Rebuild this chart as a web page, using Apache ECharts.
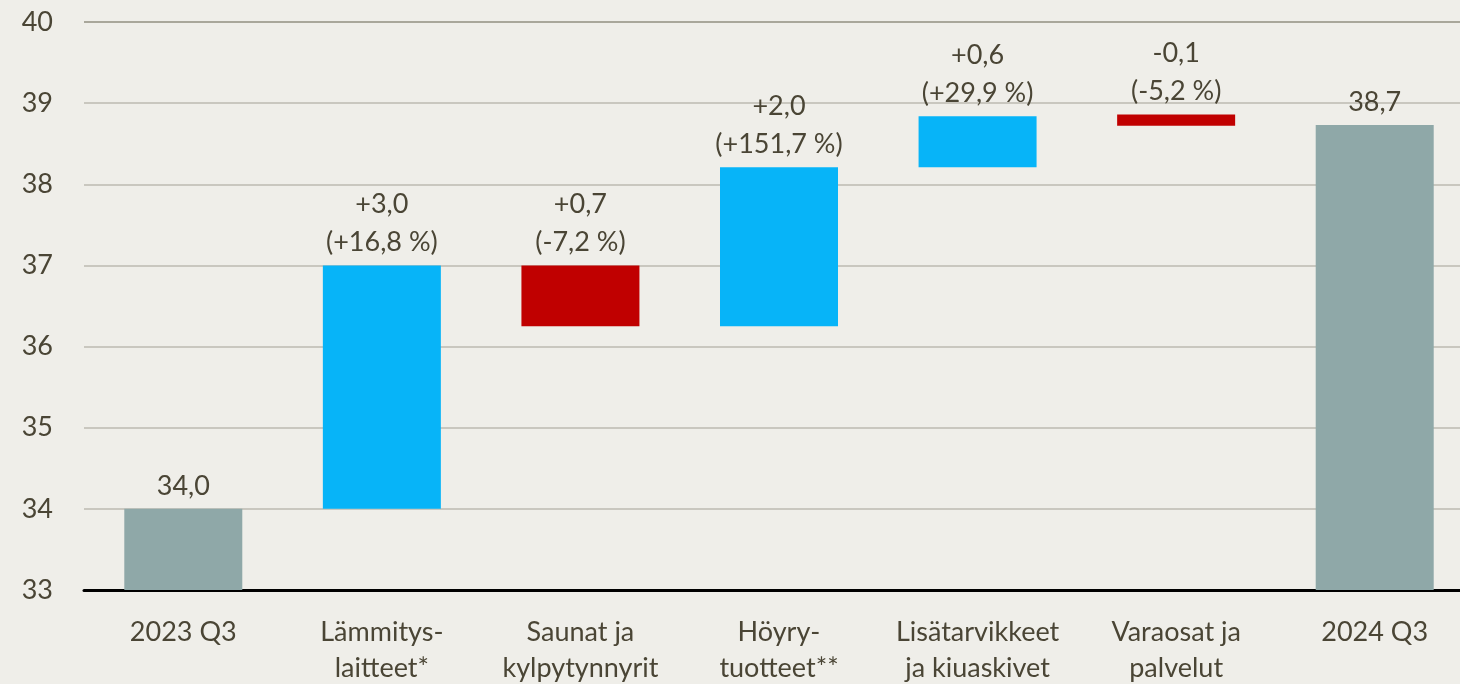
<!DOCTYPE html>
<html>
<head>
<meta charset="utf-8">
<script src="https://cdn.jsdelivr.net/npm/echarts@6/dist/echarts.min.js"></script>
<style>
html,body{margin:0;padding:0;background:#EFEEE9;overflow:hidden;}
#chart{width:1460px;height:684px;}
</style>
</head>
<body>
<div id="chart"></div>
<script>
const categories = ['2023 Q3', 'Lämmitys-\nlaitteet*', 'Saunat ja\nkylpytynnyrit', 'Höyry-\ntuotteet**', 'Lisätarvikkeet\nja kiuaskivet', 'Varaosat ja\npalvelut', '2024 Q3'];
const barLow  = [33, 34.0, 36.25, 36.25, 38.21, 38.72, 33];
const barHigh = [34.0, 37.0, 37.0, 38.21, 38.84, 38.86, 38.73];
const barKind = ['total', 'up', 'down', 'up', 'up', 'down', 'total'];
const valueLabels = ['34,0', '+3,0\n(+16,8 %)', '+0,7\n(-7,2 %)', '+2,0\n(+151,7 %)', '+0,6\n(+29,9 %)', '-0,1\n(-5,2 %)', '38,7'];
const yTicks = [33, 34, 35, 36, 37, 38, 39, 40];

const kindColor = { total: '#8FA8A8', up: '#07B4F8', down: '#C00000' };
const textColor = '#4A4535';
const font = 'Lato';
const fs = 27;

const chart = echarts.init(document.getElementById('chart'));
chart.setOption({
  backgroundColor: '#EFEEE9',
  animation: false,
  grid: { left: 84, top: 22, width: 1390, height: 568, containLabel: false, outerBoundsMode: 'none' },
  xAxis: {
    type: 'category',
    data: categories,
    axisLine: { show: true, lineStyle: { color: '#000', width: 3 } },
    axisTick: { show: false },
    axisLabel: { interval: 0, color: textColor, fontSize: fs, fontFamily: font, lineHeight: 36, margin: 24 }
  },
  yAxis: {
    type: 'value',
    min: yTicks[0],
    max: yTicks[yTicks.length - 1],
    interval: 1,
    axisLine: { show: false },
    axisTick: { show: false },
    axisLabel: { color: textColor, fontSize: fs, fontFamily: font, margin: 31 },
    splitLine: { lineStyle: { color: ['#C9C7BF','#C9C7BF','#C9C7BF','#C9C7BF','#C9C7BF','#C9C7BF','#C9C7BF','#A9A79B'], width: 2 } }
  },
  series: [
    {
      type: 'bar',
      stack: 'w',
      barWidth: 118,
      itemStyle: { color: 'transparent' },
      emphasis: { disabled: true },
      data: barLow.map((v, i) => barKind[i] === 'total' ? 0 : v)
    },
    {
      type: 'bar',
      stack: 'w',
      barWidth: 118,
      emphasis: { disabled: true },
      data: barHigh.map((v, i) => ({
        value: barKind[i] === 'total' ? v : +(v - barLow[i]).toFixed(4),
        itemStyle: { color: kindColor[barKind[i]] },
        label: { formatter: valueLabels[i] }
      })),
      label: {
        show: true,
        position: 'top',
        distance: 4,
        color: textColor,
        fontSize: fs,
        fontFamily: font,
        lineHeight: 38
      }
    }
  ]
});
</script>
</body>
</html>
